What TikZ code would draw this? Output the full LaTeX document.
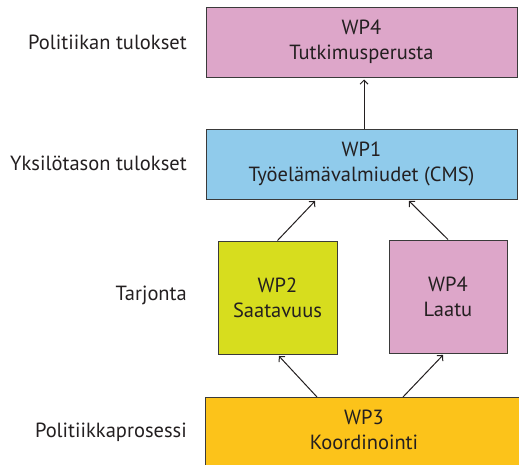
\documentclass[tikz,border=0pt]{standalone}
\usepackage{fontspec}
\setmainfont{PT Sans}
\usetikzlibrary{arrows.meta,calc}
\definecolor{pinkbox}{HTML}{DDA6C9}
\definecolor{bluebox}{HTML}{90CBEB}
\definecolor{yellowbox}{HTML}{D7DD1E}
\definecolor{orangebox}{HTML}{FCC31A}
\definecolor{edge}{HTML}{3A3A3A}
\definecolor{txt}{HTML}{231F20}
\tikzset{
  box/.style={draw=edge, line width=1pt, align=center, inner sep=0pt, text=txt,
    font=\fontsize{20.5}{25}\selectfont},
  lab/.style={anchor=east, inner sep=0pt, text=txt, font=\fontsize{20.5}{25}\selectfont},
  arr/.style={draw=txt, line width=1pt, -{Straight Barb[length=4pt,width=8pt,line width=1pt]}, shorten >=2pt},
}
\begin{document}
\begin{tikzpicture}[x=1pt,y=-1pt]
\useasboundingbox (0,0) rectangle (519,464);
\begin{scope}
\clip (0,0) rectangle (519,464);
\node[box, fill=pinkbox, minimum width=311, minimum height=70] (wp4t) at (361.5,42) {WP4\\Tutkimusperusta};
\node[box, fill=bluebox, minimum width=311, minimum height=70] (wp1) at (361.5,164) {WP1\\Työelämävalmiudet (CMS)};
\node[box, fill=yellowbox, minimum width=119, minimum height=113] (wp2) at (277.5,297.5) {WP2\\Saatavuus};
\node[box, fill=pinkbox, minimum width=118, minimum height=113] (wp4l) at (448,296.5) {WP4\\Laatu};
\node[box, fill=orangebox, minimum width=322, minimum height=80, anchor=north west] (wp3) at (205,397) {};
\node[box, draw=none, anchor=center] (wp3t) at (364,430) {WP3\\Koordinointi};
\end{scope}
\node[lab] (l1) at (187,42) {Politiikan tulokset};
\node[lab] (l2) at (187,163) {Yksilötason tulokset};
\node[lab] (l3) at (187,295) {Tarjonta};
\node[lab] (l4) at (187,432) {Politiikkaprosessi};
\coordinate (w1a) at ($(wp1.south west)+(111,0)$);
\coordinate (w1b) at ($(wp1.south west)+(202,0)$);
\coordinate (w3a) at ($(wp3.north west)+(112,0)$);
\coordinate (w3b) at ($(wp3.north west)+(198,0)$);
\coordinate (w2b) at ($(wp2.south)$);
\coordinate (w4b) at ($(wp4l.south west)+(56,0)$);
\draw[arr] (wp1.north -| 364,0) -- (wp4t.south -| 364,0);
\draw[arr] (wp2.north) -- (w1a);
\draw[arr] (wp4l.north) -- (w1b);
\draw[arr] (w3a) -- (w2b);
\draw[arr] (w3b) -- (w4b);
\end{tikzpicture}
\end{document}
